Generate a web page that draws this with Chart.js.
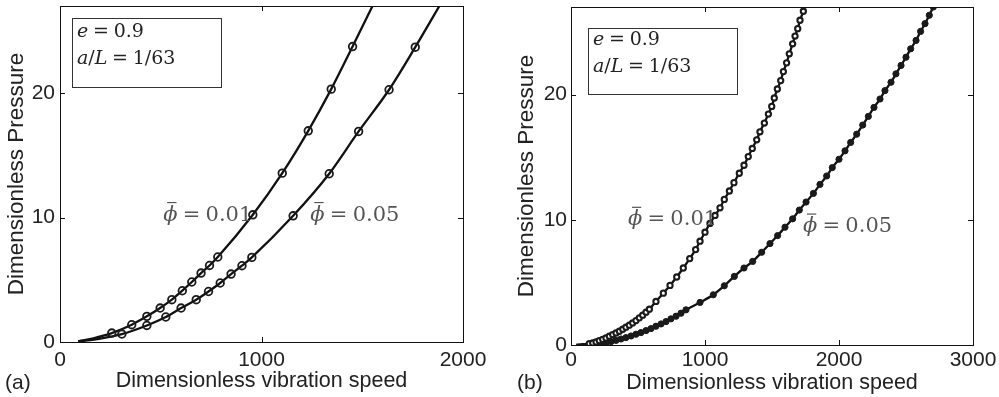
<!DOCTYPE html>
<html>
<head>
<meta charset="utf-8">
<script src="https://cdn.jsdelivr.net/npm/chart.js@4.4.0/dist/chart.umd.min.js"></script>
<style>
  html, body { margin: 0; padding: 0; background: #fff; }
  #wrap { position: relative; width: 999px; height: 397px; overflow: hidden; }
  canvas { position: absolute; top: 0; }
  #chartA { left: 0; }
  #chartB { left: 500px; }
</style>
</head>
<body>
<div id="wrap">
  <canvas id="chartA" width="500" height="397"></canvas>
  <canvas id="chartB" width="499" height="397"></canvas>
</div>
<script>
// tick labels
const xTicksA = [0, 1000, 2000];
const xTicksB = [0, 1000, 2000, 3000];
const yTicks = [0, 10, 20];

// panel (a): phi = 0.01 markers
const aX01 = [257, 356, 431, 497, 555, 607, 654, 700, 742, 783, 957, 1103, 1232, 1346, 1452];
const aY01 = [0.72, 1.39, 2.06, 2.73, 3.40, 4.12, 4.82, 5.54, 6.15, 6.83, 10.22, 13.57, 16.97, 20.32, 23.74];
// curve ends outside the markers
const aHeadX01 = [90, 170], aHeadY01 = [0.05, 0.32];
const aTailX01 = [1560], aTailY01 = [27.3];

// panel (a): phi = 0.05
const aX05 = [307, 431, 525, 601, 676, 737, 795, 849, 903, 952, 1157, 1336, 1482, 1633, 1763];
const aY05 = [0.64, 1.33, 2.01, 2.73, 3.40, 4.06, 4.74, 5.46, 6.13, 6.80, 10.14, 13.52, 16.92, 20.27, 23.69];
const aHeadX05 = [90, 200], aHeadY05 = [0.05, 0.28];
const aTailX05 = [1890], aTailY05 = [27.2];

// panel (b): phi = 0.01
const bX01 = [137, 162, 187, 211, 236, 261, 286, 311, 336, 361, 386, 410, 435, 460, 485, 510, 535, 560, 585,
  634, 689, 739, 789, 838, 886, 930, 963, 1000, 1037, 1075, 1112, 1144, 1182, 1216, 1256, 1291, 1323, 1353,
  1386, 1410, 1443, 1473, 1498, 1517, 1540, 1565, 1585, 1609, 1629, 1654, 1672, 1692, 1709, 1734];
const bY01 = [0.11, 0.16, 0.24, 0.35, 0.45, 0.56, 0.70, 0.83, 0.96, 1.10, 1.26, 1.42, 1.58, 1.76, 1.95, 2.17, 2.38, 2.62, 2.86,
  3.48, 4.14, 4.76, 5.43, 6.15, 6.90, 7.62, 8.29, 9.01, 9.71, 10.35, 10.96, 11.63, 12.30, 12.97, 13.72, 14.36, 15.05, 15.70,
  16.39, 17.03, 17.73, 18.45, 19.06, 19.73, 20.45, 21.12, 21.84, 22.54, 23.26, 24.06, 24.68, 25.27, 25.94, 26.66];
const bHeadX01 = [40, 90], bHeadY01 = [0.01, 0.06];
const bTailX01 = [1750], bTailY01 = [27.3];

// panel (b): phi = 0.05
const bX05 = [224, 261, 299, 336, 373, 410, 448, 485, 522, 560, 597, 634, 672, 709, 746, 784, 821, 858,
  963, 1062, 1144, 1219, 1291, 1356, 1423, 1485, 1542, 1597, 1654, 1704, 1754, 1809, 1858, 1908, 1950, 2000,
  2045, 2087, 2132, 2177, 2219, 2261, 2306, 2343, 2388, 2425, 2463, 2500, 2535, 2575, 2609, 2642, 2674, 2704];
const bY05 = [0.11, 0.19, 0.27, 0.37, 0.48, 0.59, 0.72, 0.86, 0.99, 1.15, 1.31, 1.50, 1.68, 1.87, 2.09, 2.30, 2.54, 2.81,
  3.40, 4.01, 4.73, 5.48, 6.15, 6.68, 7.41, 8.10, 8.74, 9.41, 10.08, 10.78, 11.42, 12.11, 12.83, 13.50, 14.17, 14.84,
  15.51, 16.18, 16.84, 17.57, 18.26, 18.98, 19.65, 20.32, 20.99, 21.66, 22.33, 22.99, 23.66, 24.33, 25.05, 25.67, 26.34, 27.0];
const bHeadX05 = [40, 130], bHeadY05 = [0.0, 0.05];
const bTailX05 = [2720], bTailY05 = [27.3];

const SANS = '"Liberation Sans", Arial, sans-serif';
const SERIF = '"DejaVu Serif", serif';
const INK = '#222';
const EQ = '\u2005=\u2005';

function pts(xs, ys) {
  return xs.map((x, i) => ({ x: x, y: ys[i] }));
}

// text made of italic / upright pieces, returns end x
function drawRuns(ctx, runs, x, y, size) {
  runs.forEach(r => {
    ctx.font = (r[1] ? 'italic ' : '') + size + 'px ' + SERIF;
    ctx.fillText(r[0], x, y);
    x += ctx.measureText(r[0]).width;
  });
  return x;
}

// frame, inward ticks, parameter box, curve labels
const decor = {
  id: 'decor',
  afterDraw(chart, args, opts) {
    const ctx = chart.ctx;
    const a = chart.chartArea;
    const xs = chart.scales.x, ys = chart.scales.y;
    ctx.save();
    ctx.strokeStyle = '#111';
    ctx.lineWidth = 1;
    ctx.strokeRect(a.left + 0.5, a.top + 0.5, a.right - a.left, a.bottom - a.top);
    ctx.beginPath();
    opts.xTicks.forEach(v => {
      const p = Math.round(xs.getPixelForValue(v)) + 0.5;
      ctx.moveTo(p, a.bottom); ctx.lineTo(p, a.bottom - 5);
      ctx.moveTo(p, a.top); ctx.lineTo(p, a.top + 5);
    });
    yTicks.forEach(v => {
      const p = Math.round(ys.getPixelForValue(v)) + 0.5;
      ctx.moveTo(a.left, p); ctx.lineTo(a.left + 5, p);
      ctx.moveTo(a.right, p); ctx.lineTo(a.right - 5, p);
    });
    ctx.stroke();

    // parameter box
    const b = opts.box;
    ctx.strokeStyle = '#333';
    ctx.strokeRect(a.left + b.dx + 0.5, a.top + b.dy + 0.5, b.w, b.h);
    ctx.fillStyle = '#222';
    ctx.textBaseline = 'middle';
    ctx.textAlign = 'left';
    drawRuns(ctx, [['e', true], [EQ + '0.9', false]], a.left + b.dx + 5, a.top + b.dy + b.l1, 19);
    drawRuns(ctx, [['a', true], ['/', false], ['L', true], [EQ + '1/63', false]], a.left + b.dx + 5, a.top + b.dy + b.l2, 19);

    // curve labels, phi with a bar
    ctx.fillStyle = '#555';
    ctx.strokeStyle = '#555';
    ctx.lineWidth = 1.2;
    opts.labels.forEach(l => {
      const x0 = xs.getPixelForValue(l.x), y0 = ys.getPixelForValue(l.y);
      const x1 = drawRuns(ctx, [['\u03D5', true]], x0, y0, 21);
      drawRuns(ctx, [[EQ + l.text, false]], x1, y0, 21);
      ctx.beginPath();
      ctx.moveTo(x0 + 4, y0 - 12.5);
      ctx.lineTo(x1 - 1, y0 - 12.5);
      ctx.stroke();
    });

    // panel letter
    ctx.fillStyle = INK;
    ctx.font = '21px ' + SANS;
    ctx.fillText(opts.letter, opts.letterX, 383);
    ctx.restore();
  }
};

function makeChart(id, c) {
  const lineStyle = { showLine: true, pointRadius: 0, borderColor: '#111', borderWidth: 2.3, cubicInterpolationMode: 'monotone' };
  return new Chart(document.getElementById(id), {
    type: 'scatter',
    data: {
      datasets: [
        Object.assign({ data: c.m01 }, c.mark01),
        Object.assign({ data: c.m05 }, c.mark05),
        Object.assign({ data: c.line01 }, lineStyle),
        Object.assign({ data: c.line05 }, lineStyle)
      ]
    },
    options: {
      responsive: false,
      animation: false,
      events: [],
      layout: { padding: { top: c.top, right: c.right, bottom: 0, left: 0 } },
      plugins: {
        legend: { display: false },
        tooltip: { enabled: false },
        decor: c.decor
      },
      scales: {
        x: {
          type: 'linear', min: 0, max: c.xMax,
          grid: { display: false, drawTicks: false },
          border: { display: false },
          ticks: { autoSkip: false, maxRotation: 0, padding: c.xPad, color: INK,
            font: { family: SANS, size: 21 }, callback: v => String(v) },
          title: { display: true, text: 'Dimensionless vibration speed', color: INK,
            font: { family: SANS, size: 21.5 }, padding: { top: 0, bottom: c.xTitlePad } },
          afterBuildTicks: s => { s.ticks = c.xTicks.map(v => ({ value: v })); },
          afterFit: s => { s.height = c.xH; s.paddingLeft = 0; s.paddingRight = 0; }
        },
        y: {
          type: 'linear', min: 0, max: 27,
          grid: { display: false, drawTicks: false },
          border: { display: false },
          ticks: { autoSkip: false, padding: c.yPad, color: INK,
            font: { family: SANS, size: 21 }, callback: v => String(v) },
          title: { display: true, text: 'Dimensionless Pressure', color: INK,
            font: { family: SANS, size: 22.5 }, padding: { top: c.yTitlePad, bottom: 0 } },
          afterBuildTicks: s => { s.ticks = yTicks.map(v => ({ value: v })); },
          afterFit: s => { s.width = c.yW; s.paddingTop = 0; s.paddingBottom = 0; }
        }
      }
    },
    plugins: [decor]
  });
}

const openRing = { showLine: false, pointRadius: 3.8, pointBorderWidth: 1.8,
  pointBorderColor: '#1a1a1a', pointBackgroundColor: 'rgba(0,0,0,0)' };

makeChart('chartA', {
  xMax: 2000, xTicks: xTicksA, top: 6, right: 37, xH: 55, yW: 60,
  xPad: 6, yPad: 5, xTitlePad: 3, yTitlePad: 3,
  m01: pts(aX01, aY01), m05: pts(aX05, aY05),
  line01: pts(aHeadX01, aHeadY01).concat(pts(aX01, aY01), pts(aTailX01, aTailY01)),
  line05: pts(aHeadX05, aHeadY05).concat(pts(aX05, aY05), pts(aTailX05, aTailY05)),
  mark01: openRing, mark05: openRing,
  decor: {
    xTicks: xTicksA, letter: '(a)', letterX: 5,
    box: { dx: 12, dy: 12, w: 149, h: 69, l1: 14, l2: 41 },
    labels: [{ x: 512, y: 10.2, text: '0.01' }, { x: 1242, y: 10.2, text: '0.05' }]
  }
});

makeChart('chartB', {
  xMax: 3000, xTicks: xTicksB, top: 7, right: 26, xH: 52, yW: 71,
  xPad: 3, yPad: 4, xTitlePad: 1, yTitlePad: 13,
  m01: pts(bX01, bY01), m05: pts(bX05, bY05),
  line01: pts(bHeadX01, bHeadY01).concat(pts(bX01, bY01), pts(bTailX01, bTailY01)),
  line05: pts(bHeadX05, bHeadY05).concat(pts(bX05, bY05), pts(bTailX05, bTailY05)),
  mark01: { showLine: false, pointRadius: 2.6, pointBorderWidth: 2.1,
    pointBorderColor: '#1a1a1a', pointBackgroundColor: '#fff' },
  mark05: { showLine: false, pointRadius: 3.1, pointBorderWidth: 1,
    pointBorderColor: '#1a1a1a', pointBackgroundColor: '#1a1a1a' },
  decor: {
    xTicks: xTicksB, letter: '(b)', letterX: 17,
    box: { dx: 17, dy: 21, w: 149, h: 66, l1: 12, l2: 39 },
    labels: [{ x: 425, y: 10.0, text: '0.01' }, { x: 1731, y: 9.46, text: '0.05' }]
  }
});
</script>
</body>
</html>
